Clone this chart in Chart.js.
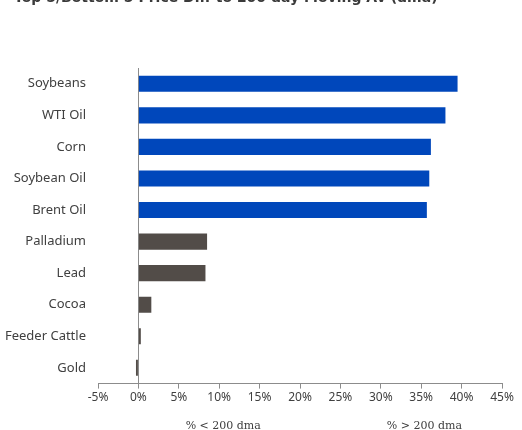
<!DOCTYPE html>
<html>
<head>
<meta charset="utf-8">
<script src="https://cdn.jsdelivr.net/npm/chart.js@4/dist/chart.umd.min.js"></script>
<style>
    body { margin: 0; background: #fff; }
    #wrap { position: relative; width: 522px; height: 430px; overflow: hidden; }
    #title {
        position: absolute; left: 14px; top: -11px;
        font: bold 14px "DejaVu Sans", sans-serif; color: #3a3a3a; white-space: nowrap;
    }
</style>
</head>
<body>
<div id="wrap">
    <div id="title">Top 5/Bottom 5 Price Diff to 200 day Moving Av (dma)</div>
    <canvas id="chart" width="522" height="430"></canvas>
</div>
<script>
// Commodities ranked by % distance from 200-day moving average
const commodities = ['Soybeans', 'WTI Oil', 'Corn', 'Soybean Oil', 'Brent Oil',
    'Palladium', 'Lead', 'Cocoa', 'Feeder Cattle', 'Gold'];
const diffPct = [39.5, 38.0, 36.2, 36.0, 35.7, 8.5, 8.3, 1.6, 0.3, -0.3];
const topCount = 5;

const xTicks = { min: -5, max: 45, step: 5 };
const footLabels = ['% < 200 dma', '% > 200 dma'];
const footAt = [10.5, 35.4];

const TEXT = '#404040';
const AXIS = '#8c8c8c';

// axis captions under the tick labels
const footPlugin = {
    id: 'foot',
    afterDraw(chart) {
        const { ctx, chartArea, scales } = chart;
        ctx.save();
        ctx.font = '11px "DejaVu Serif", serif';
        ctx.fillStyle = TEXT;
        ctx.textAlign = 'center';
        ctx.textBaseline = 'alphabetic';
        footLabels.forEach((t, i) => {
            ctx.fillText(t, scales.x.getPixelForValue(footAt[i]), chartArea.bottom + 45);
        });
        ctx.restore();
    }
};

new Chart(document.getElementById('chart'), {
    type: 'bar',
    data: {
        labels: commodities,
        datasets: [{
            data: diffPct,
            backgroundColor: ctx => ctx.dataIndex < topCount ? '#0047bb' : '#524c48',
            barPercentage: 0.51,
            categoryPercentage: 1
        }]
    },
    options: {
        indexAxis: 'y',
        responsive: false,
        animation: false,
        layout: { padding: { left: 0, right: 20, top: 68, bottom: 23 } },
        plugins: { legend: { display: false }, tooltip: { enabled: false } },
        scales: {
            x: {
                min: xTicks.min,
                max: xTicks.max,
                ticks: {
                    stepSize: xTicks.step,
                    color: TEXT,
                    font: { family: 'Noto Sans', size: 12 },
                    padding: 2,
                    callback: v => v + '%'
                },
                grid: {
                    color: c => c.tick && c.tick.value === 0 ? AXIS : 'transparent',
                    tickColor: AXIS,
                    tickLength: 5,
                    drawTicks: true
                },
                border: { display: true, color: AXIS }
            },
            y: {
                afterFit: s => { s.width = 98; },
                ticks: {
                    color: TEXT,
                    font: { family: 'Noto Sans', size: 13 },
                    padding: 4
                },
                grid: { display: false },
                border: { display: false }
            }
        }
    },
    plugins: [footPlugin]
});
</script>
</body>
</html>
